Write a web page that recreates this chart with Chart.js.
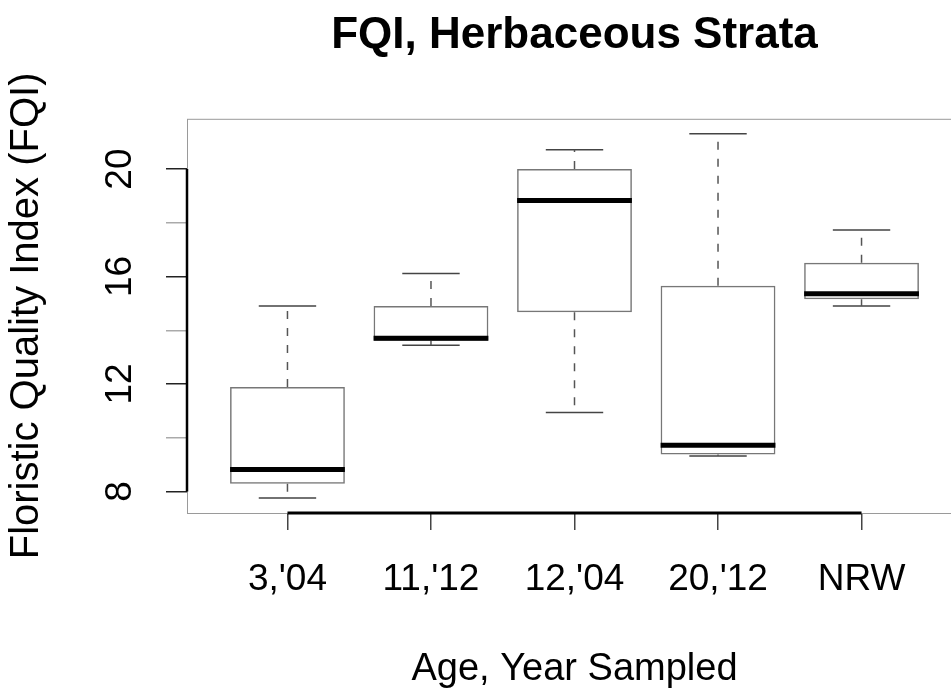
<!DOCTYPE html>
<html>
<head>
<meta charset="utf-8">
<title>FQI, Herbaceous Strata</title>
<script src="https://cdn.jsdelivr.net/npm/chart.js@4.4.1/dist/chart.umd.min.js"></script>
<style>
  html, body { margin: 0; padding: 0; background: #fff; overflow: hidden; }
  #wrap { width: 951px; height: 696px; overflow: hidden; }
</style>
</head>
<body>
<div id="wrap"><canvas id="graficoFqi" width="962" height="696"></canvas></div>
<script>
const categories = ["3,'04", "11,'12", "12,'04", "20,'12", "NRW"];
const lowWhisker = [7.76, 13.44, 10.94, 9.32, 14.90];
const lowerQuartile = [8.29, 13.61, 14.67, 9.38, 15.15];
const medians = [8.82, 13.70, 18.83, 9.72, 15.36];
const upperQuartile = [11.89, 14.90, 20.00, 15.66, 16.51];
const highWhisker = [14.90, 16.11, 20.72, 21.31, 17.73];

const yTicks = [8, 10, 12, 14, 16, 18, 20];
const yLabels = [8, 12, 16, 20];

// R style limits: boxes at 1..n, +/- 0.5 and 4% extra
const xMin = 0.3, xMax = 5.7;
const yMin = 7.2, yMax = 21.87;
const boxWidth = 0.8;
const capWidth = 0.4;

Chart.defaults.font.family = "'Liberation Sans', Arial, sans-serif";
Chart.defaults.color = '#000';

// one point pair per box, null between so the line breaks
function segments(from, to, half) {
  const pts = [];
  categories.forEach((c, i) => {
    const x = i + 1;
    pts.push({ x: x - half, y: from[i] }, { x: x + half, y: to[i] }, { x: x, y: null });
  });
  return pts;
}

const rFrame = {
  id: 'rFrame',
  beforeDatasetsDraw(chart) {
    const { ctx, chartArea: a, scales: { x, y } } = chart;
    ctx.save();
    ctx.strokeStyle = '#9a9a9a';
    ctx.lineWidth = 1;
    ctx.strokeRect(a.left + 0.5, a.top + 0.5, a.right - a.left, a.bottom - a.top);
    ctx.strokeStyle = '#000';
    ctx.lineWidth = 3;
    ctx.beginPath();
    ctx.moveTo(x.getPixelForValue(1), a.bottom);
    ctx.lineTo(x.getPixelForValue(categories.length), a.bottom);
    ctx.stroke();
    ctx.lineWidth = 2.5;
    ctx.beginPath();
    ctx.moveTo(a.left, y.getPixelForValue(yTicks[0]));
    ctx.lineTo(a.left, y.getPixelForValue(yTicks[yTicks.length - 1]));
    ctx.stroke();
    ctx.restore();
  }
};

const chart = new Chart(document.getElementById('graficoFqi'), {
  type: 'bar',
  data: {
    datasets: [{
      type: 'bar',
      label: 'Quartiles',
      order: 3,
      data: categories.map((c, i) => ({ x: i + 1, y: [lowerQuartile[i], upperQuartile[i]] })),
      backgroundColor: 'rgba(255,255,255,0)',
      borderColor: '#777',
      borderWidth: 1.5,
      borderSkipped: false,
      barPercentage: 1,
      categoryPercentage: boxWidth
    }, {
      type: 'line',
      label: 'Whiskers',
      order: 2,
      data: segments(upperQuartile, highWhisker, 0).concat(segments(lowerQuartile, lowWhisker, 0)),
      borderColor: '#555',
      borderWidth: 1.5,
      borderDash: [8, 9],
      pointRadius: 0,
      spanGaps: false,
      fill: false
    }, {
      type: 'line',
      label: 'Caps',
      order: 2,
      data: segments(highWhisker, highWhisker, capWidth / 2).concat(segments(lowWhisker, lowWhisker, capWidth / 2)),
      borderColor: '#444',
      borderWidth: 1.5,
      pointRadius: 0,
      spanGaps: false,
      fill: false
    }, {
      type: 'line',
      label: 'Median',
      order: 1,
      data: segments(medians, medians, boxWidth / 2),
      borderColor: '#000',
      borderWidth: 5,
      borderCapStyle: 'butt',
      pointRadius: 0,
      spanGaps: false,
      fill: false
    }]
  },
  options: {
    responsive: false,
    animation: false,
    layout: { padding: 0 },
    plugins: {
      legend: { display: false },
      tooltip: { enabled: false },
      title: {
        display: true,
        fullSize: false,
        text: 'FQI, Herbaceous Strata',
        color: '#000',
        font: { size: 44, weight: 'bold' },
        padding: { top: 9, bottom: 57 }
      }
    },
    scales: {
      x: {
        type: 'linear',
        min: xMin,
        max: xMax,
        offset: false,
        grid: { offset: false, drawOnChartArea: false, tickLength: 17, color: '#444', lineWidth: 1.5 },
        border: { display: false },
        afterBuildTicks: s => { s.ticks = categories.map((c, i) => ({ value: i + 1 })); },
        afterFit: s => { s.height = 183; },
        ticks: {
          autoSkip: false,
          maxRotation: 0,
          padding: 28,
          font: { size: 37 },
          callback: v => categories[v - 1]
        },
        title: { display: true, text: 'Age, Year Sampled', font: { size: 38 }, padding: { top: 0, bottom: 4 } }
      },
      y: {
        min: yMin,
        max: yMax,
        grid: {
          drawOnChartArea: false,
          tickLength: 21,
          lineWidth: 1.5,
          color: ctx => (ctx.tick && yLabels.includes(ctx.tick.value)) ? '#222' : '#aaa'
        },
        border: { display: false },
        afterBuildTicks: s => { s.ticks = yTicks.map(v => ({ value: v })); },
        afterFit: s => { s.width = 187; },
        ticks: {
          autoSkip: false,
          minRotation: 90,
          maxRotation: 90,
          crossAlign: 'center',
          padding: 25,
          font: { size: 37 },
          callback: v => yLabels.includes(v) ? String(v) : ''
        },
        title: { display: true, text: 'Floristic Quality Index (FQI)', font: { size: 40 }, padding: { top: 3, bottom: 0 } }
      }
    }
  },
  plugins: [rFrame]
});
</script>
</body>
</html>
